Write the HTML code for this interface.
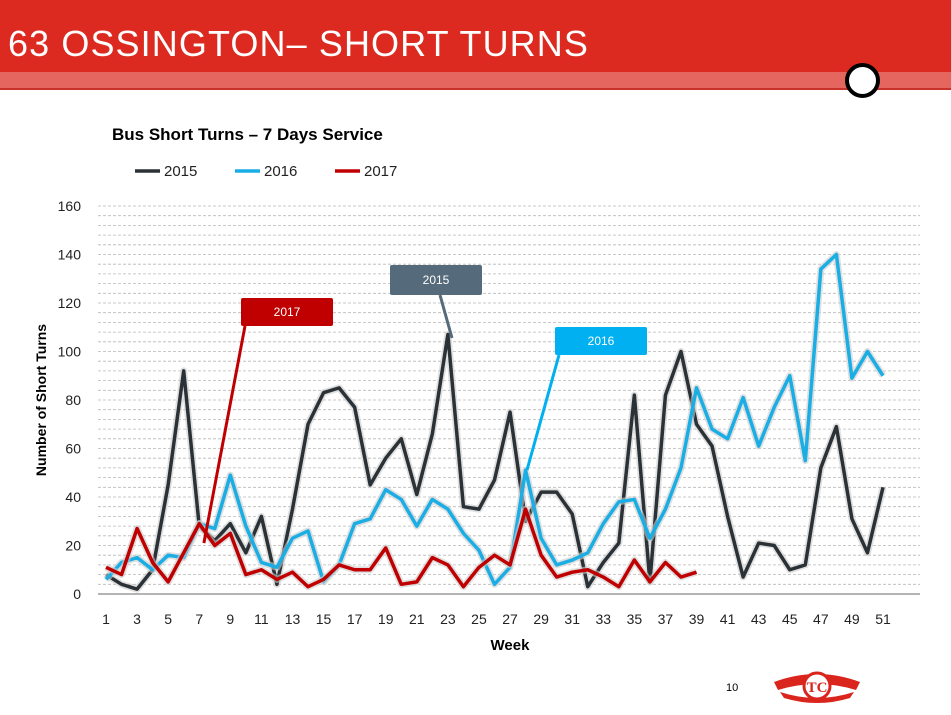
<!DOCTYPE html>
<html><head><meta charset="utf-8"><style>
body{margin:0;width:951px;height:715px;background:#fff;font-family:"Liberation Sans",sans-serif;overflow:hidden;position:relative}
</style></head><body>
<div style="position:absolute;left:0;top:0;width:951px;height:72px;background:#dc2a20"></div>
<div style="position:absolute;left:0;top:72px;width:951px;height:16px;background:#e5665e"></div>
<div style="position:absolute;left:0;top:88px;width:951px;height:2px;background:#c9322a"></div>
<div style="position:absolute;left:8px;top:23px;color:#fff;font-size:36px;letter-spacing:1.1px">63 OSSINGTON– SHORT TURNS</div>
<div style="position:absolute;left:845px;top:63px;width:27px;height:27px;border:4px solid #000;border-radius:50%;background:#fff"></div>
<div style="position:absolute;left:726px;top:682px;font-size:11px">10</div>
<svg style="position:absolute;left:772px;top:668px" width="90" height="36" viewBox="0 0 90 36">
<path d="M2 14 Q45 -2 88 14 L84 22 Q45 10 6 22Z" fill="#da251d"/>
<path d="M8 24 Q45 36 82 24 L78 30 Q45 40 12 30Z" fill="#da251d"/>
<circle cx="45" cy="18" r="13" fill="#fff" stroke="#da251d" stroke-width="3"/>
<text x="45" y="24" text-anchor="middle" font-size="15" font-weight="bold" fill="#da251d" font-family="Liberation Serif, serif">TC</text>
</svg>
<svg id="chart" style="position:absolute;left:0;top:0" width="951" height="715"></svg>
<script>
const weeks=[];for(let i=1;i<=51;i++)weeks.push(i);
const s2015=[8,4,2,10,45,92,28,22,29,17,32,4,35,70,83,85,77,45,56,64,41,66,107,36,35,47,75,30,42,42,33,3,13,21,82,5,82,100,70,61,32,7,21,20,10,12,52,69,31,17,44];
const s2016=[6,13,15,10,16,15,29,27,49,28,13,11,23,26,5,12,29,31,43,39,28,39,35,25,18,4,11,51,23,12,14,17,29,38,39,23,35,52,85,68,64,81,61,77,90,55,134,140,89,100,90];
const s2017=[11,8,27,13,5,17,29,20,25,8,10,6,9,3,6,12,10,10,19,4,5,15,12,3,11,16,12,35,16,7,9,10,7,3,14,5,13,7,9];
const yTicks=[0,20,40,60,80,100,120,140,160];
const xTicks=[1,3,5,7,9,11,13,15,17,19,21,23,25,27,29,31,33,35,37,39,41,43,45,47,49,51];
const X=w=>106+(w-1)*15.54, Y=v=>594-v*2.425;
const svg=document.getElementById('chart');const NS='http://www.w3.org/2000/svg';
function mk(t,a,p){const e=document.createElementNS(NS,t);for(const k in a)e.setAttribute(k,a[k]);(p||svg).appendChild(e);return e;}
for(let v=4;v<=160;v+=4){const l=mk('line',{x1:98,x2:920,y1:Y(v),y2:Y(v),stroke:'#b8b8b8','stroke-width':0.8,'stroke-dasharray':'3,2'});

}
const ax=mk('line',{x1:98,x2:920,y1:594,y2:594,stroke:'#888','stroke-width':1.2});


yTicks.forEach(v=>{const t=mk('text',{x:81,y:Y(v)+5,'text-anchor':'end','font-size':14,fill:'#222'});t.textContent=v;

});
xTicks.forEach(w=>{const t=mk('text',{x:X(w),y:624,'text-anchor':'middle','font-size':14,fill:'#222'});t.textContent=w;

});
function series(data,color,name){const pts=data.map((v,i)=>X(weeks[i])+','+Y(v)).join(' ');
const sh=mk('polyline',{points:pts,fill:'none',stroke:'#ccc','stroke-width':7,'stroke-linejoin':'round',opacity:0.6});


const l=mk('polyline',{points:pts,fill:'none',stroke:color,'stroke-width':3.5,'stroke-linejoin':'round'});

}
series(s2015,'#2b3237','line-2015');series(s2016,'#1aaee5','line-2016');series(s2017,'#c00000','line-2017');
function callout(x,y,w,h,color,label,px,py,name){const p=mk('line',{x1:x+(name=='callout-2015'?50:4),y1:y+h,x2:px,y2:py,stroke:color,'stroke-width':3});


const r=mk('rect',{x:x,y:y,width:w,height:h,fill:color,rx:2});


const t=mk('text',{x:x+w/2,y:y+h/2+4,'text-anchor':'middle','font-size':12,fill:'#fff'});t.textContent=label;

}
callout(241,298,92,28,'#c00000','2017',X(7.3),Y(21),'callout-2017');
callout(390,265,92,30,'#556a7a','2015',452,338,'callout-2015');
callout(555,327,92,28,'#00b0f0','2016',527,470,'callout-2016');
const tt=mk('text',{x:112,y:140,'font-size':17,'font-weight':'bold',fill:'#000'});tt.textContent='Bus Short Turns – 7 Days Service';


[['2015','#2b3237',135],['2016','#1aaee5',235],['2017','#c00000',335]].forEach(([n,c,x])=>{
const l=mk('line',{x1:x,x2:x+25,y1:171,y2:171,stroke:c,'stroke-width':3.5});


const t=mk('text',{x:x+29,y:176,'font-size':15,fill:'#222'});t.textContent=n;

});
const xt=mk('text',{x:510,y:650,'text-anchor':'middle','font-size':15,'font-weight':'bold'});xt.textContent='Week';


const yt=mk('text',{x:46,y:400,'text-anchor':'middle','font-size':14,'font-weight':'bold',transform:'rotate(-90 46 400)'});yt.textContent='Number of Short Turns';


</script>
</body></html>
